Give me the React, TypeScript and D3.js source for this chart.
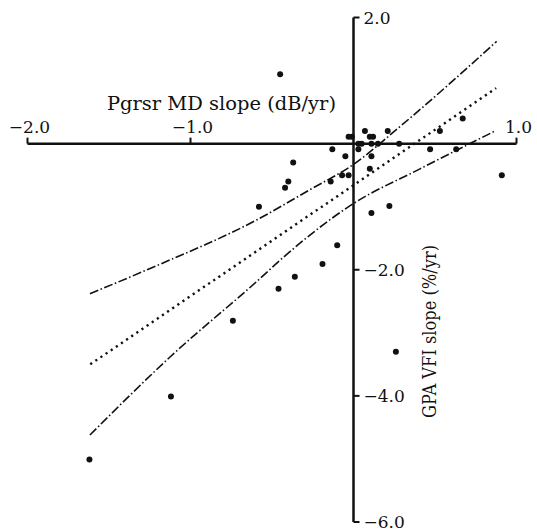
import React, { useLayoutEffect, useRef } from 'react';
import * as d3 from 'd3';

// Pgrsr MD slope (dB/yr) vs GPA VFI slope (%/yr)
const mdSlope = [
  -0.45, -0.03, -0.01, 0.07, 0.1, 0.12, 0.21, 0.03, 0.05, 0.11, 0.15, 0.28, -0.13,
  0.03, -0.05, 0.11, 0.1, -0.14, -0.07, -0.03, 0.67, 0.53, 0.47, 0.63, 0.91, -0.37,
  -0.4, -0.42, -0.58, -0.1, -0.19, -0.36, 0.26, -0.46, -0.74, -1.12, -1.62, 0.11, 0.22,
];
const vfiSlope = [
  1.1, 0.11, 0.11, 0.2, 0.11, 0.11, 0.2, 0.0, 0.0, 0.0, 0.0, 0.0, -0.09, -0.09, -0.2,
  -0.2, -0.4, -0.6, -0.5, -0.5, 0.4, 0.2, -0.09, -0.09, -0.5, -0.3, -0.6, -0.7, -1.0,
  -1.61, -1.91, -2.11, -3.3, -2.3, -2.81, -4.01, -5.01, -1.1, -0.99,
];

// regression line (dotted) and its confidence bands (dash-dot)
const fitLine: [number, number][] = [
  [-1.615, -3.5],
  [0.875, 0.88],
];
const upperBand: [number, number][] = [
  [-1.617, -2.38],
  [-1.248, -1.98],
  [-0.594, -1.21],
  [-0.267, -0.73],
  [0.0, -0.33],
  [0.285, 0.27],
  [0.878, 1.62],
];
const lowerBand: [number, number][] = [
  [-1.617, -4.62],
  [-1.124, -3.38],
  [-0.574, -2.14],
  [-0.451, -1.85],
  [0.0, -0.95],
  [0.408, -0.4],
  [0.868, 0.2],
];

const xTicks = [-2, -1, 1];
const yTicks = [2, -2, -4, -6];
const xTitle = 'Pgrsr MD slope (dB/yr)';
const yTitle = 'GPA VFI slope (%/yr)';

const App = () => {
  const ref = useRef<SVGSVGElement>(null);

  useLayoutEffect(() => {
    document.body.style.margin = '0';
    const width = 537;
    const height = 532;
    const font = '"DejaVu Serif", "Liberation Serif", serif';

    const svg = d3.select(ref.current).attr('width', width).attr('height', height);
    svg.selectAll('*').remove();

    const xScale = d3.scaleLinear().domain([-2, 1]).range([27.5, 516.5]);
    const yScale = d3.scaleLinear().domain([-6, 2]).range([522, 17.5]);
    const fmt = d3.format('.1f');

    const x0 = xScale(0);
    const y0 = yScale(0);

    // axes
    svg
      .append('line')
      .attr('x1', xScale(-2))
      .attr('x2', xScale(1))
      .attr('y1', y0)
      .attr('y2', y0)
      .attr('stroke', '#111')
      .attr('stroke-width', 2.5);

    svg
      .append('line')
      .attr('x1', x0)
      .attr('x2', x0)
      .attr('y1', yScale(2))
      .attr('y2', yScale(-6))
      .attr('stroke', '#111')
      .attr('stroke-width', 2.5);

    // x ticks point up, labels above
    svg
      .selectAll('.xtick')
      .data(xTicks)
      .enter()
      .append('line')
      .attr('x1', (d) => xScale(d))
      .attr('x2', (d) => xScale(d))
      .attr('y1', y0)
      .attr('y2', y0 - 6)
      .attr('stroke', '#111')
      .attr('stroke-width', 2);

    svg
      .selectAll('.xlabel')
      .data(xTicks)
      .enter()
      .append('text')
      .attr('x', (d) => xScale(d) + 2)
      .attr('y', 133)
      .attr('text-anchor', 'middle')
      .attr('font-family', font)
      .attr('font-size', 17)
      .attr('fill', '#111')
      .text((d) => fmt(d));

    // y ticks point right, labels to the right
    svg
      .selectAll('.ytick')
      .data(yTicks)
      .enter()
      .append('line')
      .attr('x1', x0)
      .attr('x2', x0 + 6)
      .attr('y1', (d) => yScale(d))
      .attr('y2', (d) => yScale(d))
      .attr('stroke', '#111')
      .attr('stroke-width', 2);

    svg
      .selectAll('.ylabel')
      .data(yTicks)
      .enter()
      .append('text')
      .attr('x', x0 + 10)
      .attr('y', (d) => yScale(d))
      .attr('dy', '0.36em')
      .attr('font-family', font)
      .attr('font-size', 17)
      .attr('fill', '#111')
      .text((d) => fmt(d));

    // titles
    svg
      .append('text')
      .attr('x', 107)
      .attr('y', 110)
      .attr('font-family', font)
      .attr('font-size', 18)
      .attr('fill', '#111')
      .attr('textLength', 229)
      .attr('lengthAdjust', 'spacingAndGlyphs')
      .text(xTitle);

    svg
      .append('text')
      .attr('transform', 'translate(436, 418) rotate(-90)')
      .attr('font-family', font)
      .attr('font-size', 18)
      .attr('fill', '#111')
      .attr('textLength', 173)
      .attr('lengthAdjust', 'spacingAndGlyphs')
      .text(yTitle);

    const line = d3
      .line<[number, number]>()
      .x((d) => xScale(d[0]))
      .y((d) => yScale(d[1]));
    const curve = d3
      .line<[number, number]>()
      .x((d) => xScale(d[0]))
      .y((d) => yScale(d[1]))
      .curve(d3.curveMonotoneX);

    [upperBand, lowerBand].forEach((band) => {
      svg
        .append('path')
        .attr('d', curve(band))
        .attr('fill', 'none')
        .attr('stroke', '#111')
        .attr('stroke-width', 1.6)
        .attr('stroke-dasharray', '9 2.5 1.5 2.5');
    });

    svg
      .append('path')
      .attr('d', line(fitLine))
      .attr('fill', 'none')
      .attr('stroke', '#111')
      .attr('stroke-width', 2.4)
      .attr('stroke-dasharray', '2.2 4');

    // points
    svg
      .selectAll('.pt')
      .data(mdSlope.map((m, i) => [m, vfiSlope[i]] as [number, number]))
      .enter()
      .append('circle')
      .attr('cx', (d) => xScale(d[0]))
      .attr('cy', (d) => yScale(d[1]))
      .attr('r', 3)
      .attr('fill', '#111');
  }, []);

  return (
    <div>
      <svg ref={ref} style={{ display: 'block' }}></svg>
    </div>
  );
};

export default App;
